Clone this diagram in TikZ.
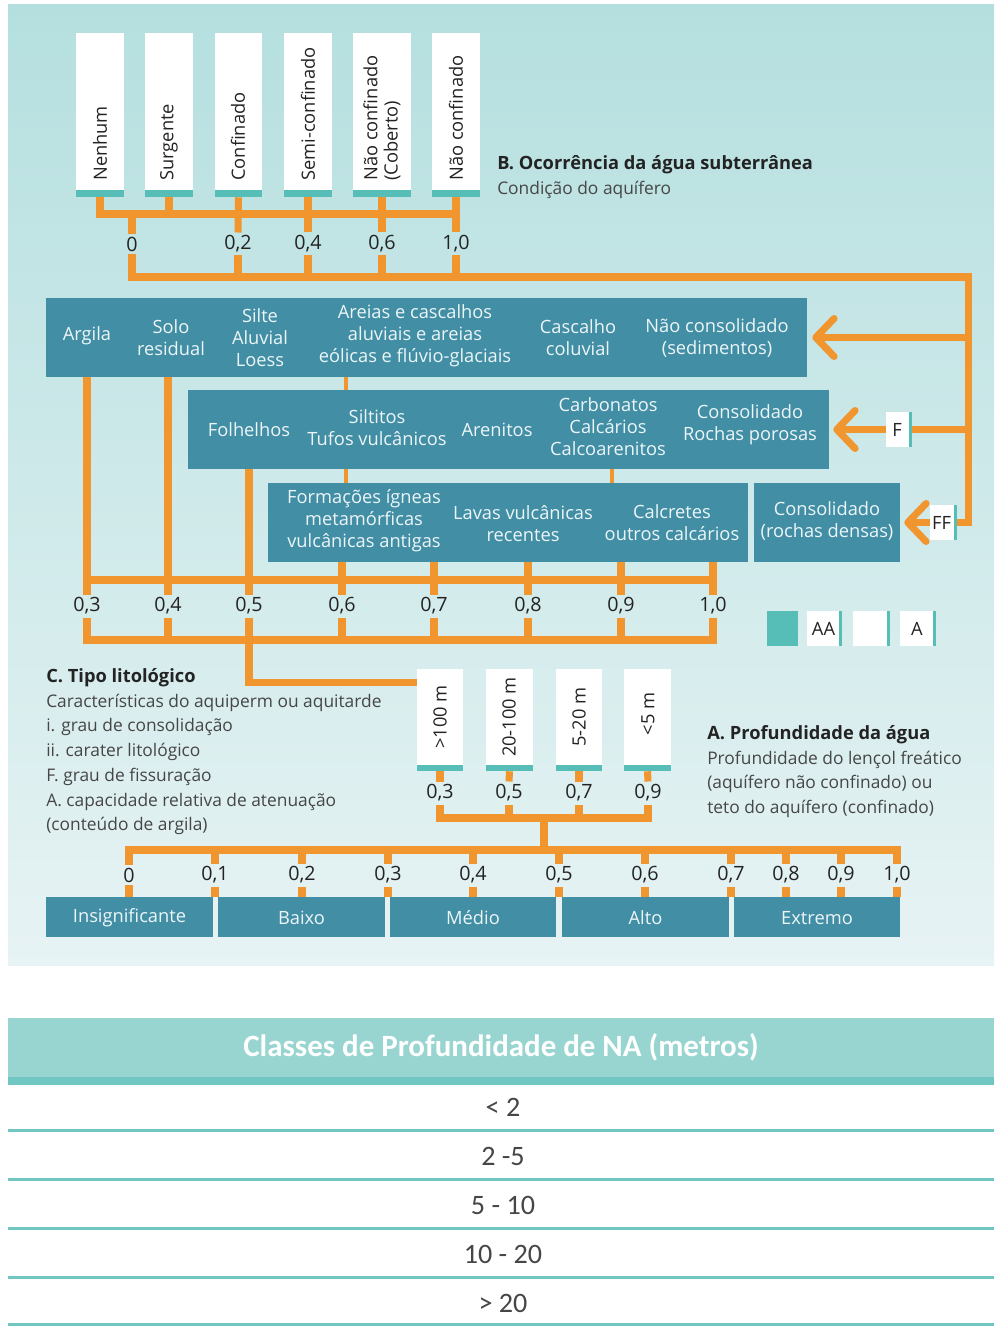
\documentclass[tikz,border=0pt]{standalone}
\usepackage{fontspec}
\setmainfont{Open Sans}
\newfontfamily\tabela{Carlito}
\usepackage{tikz}
\usetikzlibrary{arrows.meta,positioning,calc,fit,backgrounds}
\definecolor{fundotopo}{RGB}{181,223,223}
\definecolor{fundobase}{RGB}{231,243,244}
\definecolor{caixaazul}{RGB}{66,142,165}
\definecolor{laranja}{RGB}{241,150,46}
\definecolor{verdeagua}{RGB}{86,190,182}
\definecolor{textoescuro}{RGB}{35,35,35}
\definecolor{textomedio}{RGB}{70,70,70}
\definecolor{textoclaro}{RGB}{236,246,248}
\definecolor{cabecalho}{RGB}{152,213,209}
\definecolor{linhatab}{RGB}{112,198,193}
% titulo em negrito das legendas
\newcommand{\tituloparte}[1]{{\color{textoescuro}\bfseries\fontsize{13}{17.6}\selectfont #1}}
\tikzset{
  % caixa escura das litologias
  rocha/.style={fill=caixaazul, inner sep=0pt, draw=none},
  % texto dentro das caixas escuras
  txtrocha/.style={text=textoclaro, align=center, inner sep=0pt,
    font=\fontsize{13}{15.6}\selectfont},
  % caixa branca
  branco/.style={fill=white, inner sep=0pt, draw=none},
  % texto vertical nas caixas brancas
  txtvert/.style={rotate=90, text=textoescuro, align=left, inner sep=0pt,
    font=\fontsize{13}{14.5}\selectfont},
  % letras F, FF, AA, A
  letra/.style={text=textoescuro, inner sep=0pt, font=\fontsize{13}{15}\selectfont},
  % valores das escalas
  valor/.style={text=textoescuro, inner sep=2pt,
    font=\fontsize{14}{16}\selectfont},
  % ligacoes laranja
  liga/.style={draw=laranja, line width=5pt},
  fino/.style={draw=laranja, line width=2.2pt},
  seta/.style={liga, -{Straight Barb[round, length=13pt, width=27pt]}},
  % textos explicativos
  legenda/.style={text=textomedio, align=left, anchor=north west, inner sep=0pt,
    font=\fontsize{12.35}{17.6}\selectfont},
  % tabela
  celula/.style={text=textomedio, inner sep=0pt, font=\tabela\fontsize{20}{22}\selectfont},
}
\begin{document}
\begin{tikzpicture}[x=0.025cm, y=-0.025cm,
    barra/.style={fill=verdeagua}
  ]
  \useasboundingbox (0,0) rectangle (994,1326);
  \fill[white] (0,0) rectangle (994,1326);
  \shade[top color=fundotopo, bottom color=fundobase] (8,5) rectangle (994,965);

  % B. condicao do aquifero
  \node[branco, fit={(76,33) (124,197)}] (nenhum) {};
  \node[branco, fit={(145,33) (193,197)}] (surgente) {};
  \node[branco, fit={(215,33) (262,197)}] (confinado) {};
  \node[branco, fit={(284,33) (332,197)}] (semi) {};
  \node[branco, fit={(353,33) (411,197)}] (naocob) {};
  \node[branco, fit={(432,33) (480,197)}] (naoconf) {};
  \fill[barra] ($(nenhum.south west)+(0,-7)$) rectangle (nenhum.south east);
  \fill[barra] ($(surgente.south west)+(0,-7)$) rectangle (surgente.south east);
  \fill[barra] ($(confinado.south west)+(0,-7)$) rectangle (confinado.south east);
  \fill[barra] ($(semi.south west)+(0,-7)$) rectangle (semi.south east);
  \fill[barra] ($(naocob.south west)+(0,-7)$) rectangle (naocob.south east);
  \fill[barra] ($(naoconf.south west)+(0,-7)$) rectangle (naoconf.south east);
  \node[txtvert, anchor=west] (tnenhum) at (100,181) {Nenhum};
  \node[txtvert, anchor=west] (tsurgente) at (169,181) {Surgente};
  \node[txtvert, anchor=west] (tconfinado) at (238,181) {Confinado};
  \node[txtvert, anchor=west] (tsemi) at (308,181) {Semi-confinado};
  \node[txtvert, anchor=west] (tnaocob) at (382,181) {Não confinado\\(Coberto)};
  \node[txtvert, anchor=west] (tnaoconf) at (456,181) {Não confinado};

  \node[legenda] (tituloB) at (497,155) {\tituloparte{B. Ocorrência da água subterrânea}\\Condição do aquífero};

  \coordinate (barraB) at (0,214);
  \coordinate (barraB2) at (0,277);
  \coordinate (canto) at (968,277);
  \node[valor] (b0) at (132,244) {0};
  \node[valor] (b02) at (238,244) {0,2};
  \node[valor] (b04) at (308,244) {0,4};
  \node[valor] (b06) at (382,244) {0,6};
  \node[valor] (b10) at (456,244) {1,0};
  \draw[liga] (nenhum.south) |- (b10 |- barraB);
  \draw[liga] (surgente.south) -- (surgente |- barraB);
  \draw[liga] (b0 |- barraB) -- (b0.north);
  \draw[liga] (confinado.south) -- (b02.north);
  \draw[liga] (semi.south) -- (b04.north);
  \draw[liga] (naocob.south) -- (b06.north);
  \draw[liga] (naoconf.south) -- (b10.north);
  \draw[liga] (b02.south) -- (b02 |- barraB2);
  \draw[liga] (b04.south) -- (b04 |- barraB2);
  \draw[liga] (b06.south) -- (b06 |- barraB2);
  \draw[liga] (b10.south) -- (b10 |- barraB2);

  % C. tipo litologico
  \node[rocha, fit={(46,298) (807,377)}] (caixa1) {};
  \node[rocha, fit={(188,390) (829,469)}] (caixa2) {};
  \node[rocha, fit={(268,483) (748,562)}] (caixa3) {};
  \node[rocha, fit={(754,483) (900,562)}] (caixa4) {};

  \node[txtrocha] (argila) at (87,336) {Argila};
  \node[txtrocha] (solo) at (171,338) {Solo\\residual};
  \node[txtrocha] (silte) at (260,338) {Silte\\Aluvial\\Loess};
  \node[txtrocha] (areias) at (415,336) {Areias e cascalhos\\aluviais e areias\\eólicas e flúvio-glaciais};
  \node[txtrocha] (cascalho) at (578,338) {Cascalho\\coluvial};
  \node[txtrocha] (naocons) at (717,338) {Não consolidado\\(sedimentos)};

  \node[txtrocha] (folhelhos) at (249,430) {Folhelhos};
  \node[txtrocha] (siltitos) at (377,428) {Siltitos\\Tufos vulcânicos};
  \node[txtrocha] (arenitos) at (497,430) {Arenitos};
  \node[txtrocha] (carbonatos) at (608,427) {Carbonatos\\Calcários\\Calcoarenitos};
  \node[txtrocha] (porosas) at (750,425) {Consolidado\\Rochas porosas};

  \node[txtrocha] (igneas) at (364,521) {Formações ígneas\\metamórficas\\vulcânicas antigas};
  \node[txtrocha] (lavas) at (523,524) {Lavas vulcânicas\\recentes};
  \node[txtrocha] (calcretes) at (672,523) {Calcretes\\outros calcários};
  \node[txtrocha] (densas) at (827,521) {Consolidado\\(rochas densas)};

  \coordinate (ramo1) at (346,0);
  \coordinate (ramo2) at (612,0);
  \draw[fino] (ramo1 |- caixa1.south) -- (ramo1 |- caixa2.north);
  \draw[fino] (ramo1 |- caixa2.south) -- (ramo1 |- caixa3.north);
  \draw[fino] (ramo2 |- caixa2.south) -- (ramo2 |- caixa3.north);

  % fissuracao
  \node[branco, fit={(886,412) (912,447)}] (f) {};
  \node[branco, fit={(930,505) (957,540)}] (ff) {};
  \fill[barra] ($(f.north east)+(-3,0)$) rectangle (f.south east);
  \fill[barra] ($(ff.north east)+(-3,0)$) rectangle (ff.south east);
  \node[letra] (tf) at ($(f.center)+(-2,0)$) {F};
  \node[letra] (tff) at ($(ff.center)+(-2,0)$) {FF};
  \draw[liga] (b0.south) |- (canto) |- (ff.east);
  \draw[liga] (canto |- f.east) -- (f.east);
  \draw[seta] (canto |- caixa1.east) -- ($(caixa1.east)+(5,0)$);
  \draw[seta] (f.west) -- ($(caixa2.east)+(4,0)$);
  \draw[seta] (ff.west) -- ($(caixa4.east)+(4,0)$);

  % escala do tipo litologico
  \coordinate (barraC) at (0,580);
  \coordinate (barraC2) at (0,640);
  \node[valor] (c03) at (87,606) {0,3};
  \node[valor] (c04) at (168,606) {0,4};
  \node[valor] (c05) at (249,606) {0,5};
  \node[valor] (c06) at (342,606) {0,6};
  \node[valor] (c07) at (434,606) {0,7};
  \node[valor] (c08) at (528,606) {0,8};
  \node[valor] (c09) at (621,606) {0,9};
  \node[valor] (c10) at (713,606) {1,0};
  \draw[liga] (c03 |- caixa1.south) -- (c03.north);
  \draw[liga] (c04 |- caixa1.south) -- (c04.north);
  \draw[liga] (c05 |- caixa2.south) -- (c05.north);
  \draw[liga] (c06 |- caixa3.south) -- (c06.north);
  \draw[liga] (c07 |- caixa3.south) -- (c07.north);
  \draw[liga] (c08 |- caixa3.south) -- (c08.north);
  \draw[liga] (c09 |- caixa3.south) -- (c09.north);
  \draw[liga] (c10 |- caixa3.south) -- (c10.north);
  \draw[liga] (c03 |- barraC) -- (c10 |- barraC);
  \draw[liga] (c03.south) |- (c10 |- barraC2) -- (c10.south);
  \draw[liga] (c04.south) -- (c04 |- barraC2);
  \draw[liga] (c06.south) -- (c06 |- barraC2);
  \draw[liga] (c07.south) -- (c07 |- barraC2);
  \draw[liga] (c08.south) -- (c08 |- barraC2);
  \draw[liga] (c09.south) -- (c09 |- barraC2);

  % legenda AA / A
  \node[rocha, fill=verdeagua, fit={(767,611) (798,646)}] (legAA) {};
  \node[branco, fit={(807,611) (842,646)}] (legAAb) {};
  \node[branco, fit={(853,611) (890,646)}] (legvazio) {};
  \node[branco, fit={(900,611) (936,646)}] (legA) {};
  \fill[barra] ($(legAAb.north east)+(-3,0)$) rectangle (legAAb.south east);
  \fill[barra] ($(legvazio.north east)+(-3,0)$) rectangle (legvazio.south east);
  \fill[barra] ($(legA.north east)+(-3,0)$) rectangle (legA.south east);
  \node[letra] (tlegAA) at ($(legAAb.center)+(-1,0)$) {AA};
  \node[letra] (tlegA) at ($(legA.center)+(-1,0)$) {A};

  \node[legenda] (tituloC) at (46,668) {\tituloparte{C. Tipo litológico}\\Características do aquiperm ou aquitarde\\i. grau de consolidação\\ii. carater litológico\\F. grau de fissuração\\A. capacidade relativa de atenuação\\(conteúdo de argila)};

  % A. profundidade da agua
  \node[branco, fit={(417,669) (463,771)}] (prof100) {};
  \node[branco, fit={(486,669) (533,771)}] (prof20) {};
  \node[branco, fit={(556,669) (602,771)}] (prof5a20) {};
  \node[branco, fit={(624,669) (671,771)}] (prof5) {};
  \fill[barra] ($(prof100.south west)+(0,-6)$) rectangle (prof100.south east);
  \fill[barra] ($(prof20.south west)+(0,-6)$) rectangle (prof20.south east);
  \fill[barra] ($(prof5a20.south west)+(0,-6)$) rectangle (prof5a20.south east);
  \fill[barra] ($(prof5.south west)+(0,-6)$) rectangle (prof5.south east);
  \node[txtvert] (tprof100) at (440,717) {>100 m};
  \node[txtvert] (tprof20) at (509,717) {20-100 m};
  \node[txtvert] (tprof5a20) at (579,717) {5-20 m};
  \node[txtvert] (tprof5) at (648,714) {<5 m};

  \node[legenda] (tituloA) at (707,725) {\tituloparte{A. Profundidade da água}\\Profundidade do lençol freático\\(aquífero não confinado) ou\\teto do aquífero (confinado)};

  \coordinate (barraD) at (0,818);
  \coordinate (meioD) at (544,818);
  \node[valor] (d03) at (440,793) {0,3};
  \node[valor] (d05) at (509,793) {0,5};
  \node[valor] (d07) at (579,793) {0,7};
  \node[valor] (d09) at (648,793) {0,9};
  \draw[liga] (c05.south) |- ($(prof100.north west)+(0,14)$);
  \draw[liga] (prof100.south) -- (d03.north);
  \draw[liga] (prof20.south) -- (d05.north);
  \draw[liga] (prof5a20.south) -- (d07.north);
  \draw[liga] (prof5.south) -- (d09.north);
  \draw[liga] (d03.south) |- (d09 |- barraD) -- (d09.south);
  \draw[liga] (d05.south) -- (d05 |- barraD);
  \draw[liga] (d07.south) -- (d07 |- barraD);

  % indice final
  \node[rocha, fit={(46,897) (213,937)}] (insig) {};
  \node[rocha, fit={(218,897) (385,937)}] (baixo) {};
  \node[rocha, fit={(390,897) (556,937)}] (medio) {};
  \node[rocha, fit={(562,897) (729,937)}] (alto) {};
  \node[rocha, fit={(734,897) (900,937)}] (extremo) {};
  \node[txtrocha] (tinsig) at ($(insig)+(0,1)$) {Insignificante};
  \node[txtrocha] (tbaixo) at ($(baixo)+(0,1)$) {Baixo};
  \node[txtrocha] (tmedio) at ($(medio)+(0,1)$) {Médio};
  \node[txtrocha] (talto) at ($(alto)+(0,1)$) {Alto};
  \node[txtrocha] (textremo) at ($(extremo)+(0,1)$) {Extremo};

  \coordinate (barraE) at (0,850);
  \node[valor] (e0) at (129,875) {0};
  \node[valor] (e01) at (215,875) {0,1};
  \node[valor] (e02) at (302,875) {0,2};
  \node[valor] (e03) at (388,875) {0,3};
  \node[valor] (e04) at (473,875) {0,4};
  \node[valor] (e05) at (559,875) {0,5};
  \node[valor] (e06) at (645,875) {0,6};
  \node[valor] (e07) at (731,875) {0,7};
  \node[valor] (e08) at (786,875) {0,8};
  \node[valor] (e09) at (841,875) {0,9};
  \node[valor] (e10) at (897,875) {1,0};
  \draw[liga] (meioD) -- (meioD |- barraE);
  \draw[liga] (e0.north) |- (e10 |- barraE) -- (e10.north);
  \draw[liga] (e01 |- barraE) -- (e01.north);
  \draw[liga] (e02 |- barraE) -- (e02.north);
  \draw[liga] (e03 |- barraE) -- (e03.north);
  \draw[liga] (e04 |- barraE) -- (e04.north);
  \draw[liga] (e05 |- barraE) -- (e05.north);
  \draw[liga] (e06 |- barraE) -- (e06.north);
  \draw[liga] (e07 |- barraE) -- (e07.north);
  \draw[liga] (e08 |- barraE) -- (e08.north);
  \draw[liga] (e09 |- barraE) -- (e09.north);
  \draw[liga] (e0.south) -- (e0 |- insig.north);
  \draw[liga] (e01.south) -- (e01 |- insig.north);
  \draw[liga] (e02.south) -- (e02 |- insig.north);
  \draw[liga] (e03.south) -- (e03 |- insig.north);
  \draw[liga] (e04.south) -- (e04 |- insig.north);
  \draw[liga] (e05.south) -- (e05 |- insig.north);
  \draw[liga] (e06.south) -- (e06 |- insig.north);
  \draw[liga] (e07.south) -- (e07 |- insig.north);
  \draw[liga] (e08.south) -- (e08 |- insig.north);
  \draw[liga] (e09.south) -- (e09 |- insig.north);
  \draw[liga] (e10.south) -- (e10 |- insig.north);

  % tabela de classes
  \node[fill=cabecalho, inner sep=0pt, fit={(8,1018) (994,1077)}] (cab) {};
  \fill[linhatab] (8,1077) rectangle (994,1085);
  \node[text=white, inner sep=0pt, font=\tabela\bfseries\fontsize{22}{24}\selectfont] (tcab) at (cab) {Classes de Profundidade de NA (metros)};
  \node[celula] (r1) at (503,1107) {< 2};
  \node[celula] (r2) at (503,1156) {2 -5};
  \node[celula] (r3) at (503,1205) {5 - 10};
  \node[celula] (r4) at (503,1254) {10 - 20};
  \node[celula] (r5) at (503,1303) {> 20};
  \fill[linhatab] (8,1129) rectangle (994,1132);
  \fill[linhatab] (8,1178) rectangle (994,1181);
  \fill[linhatab] (8,1227) rectangle (994,1230);
  \fill[linhatab] (8,1276) rectangle (994,1279);
  \fill[linhatab] (8,1323) rectangle (994,1326);
\end{tikzpicture}
\end{document}
